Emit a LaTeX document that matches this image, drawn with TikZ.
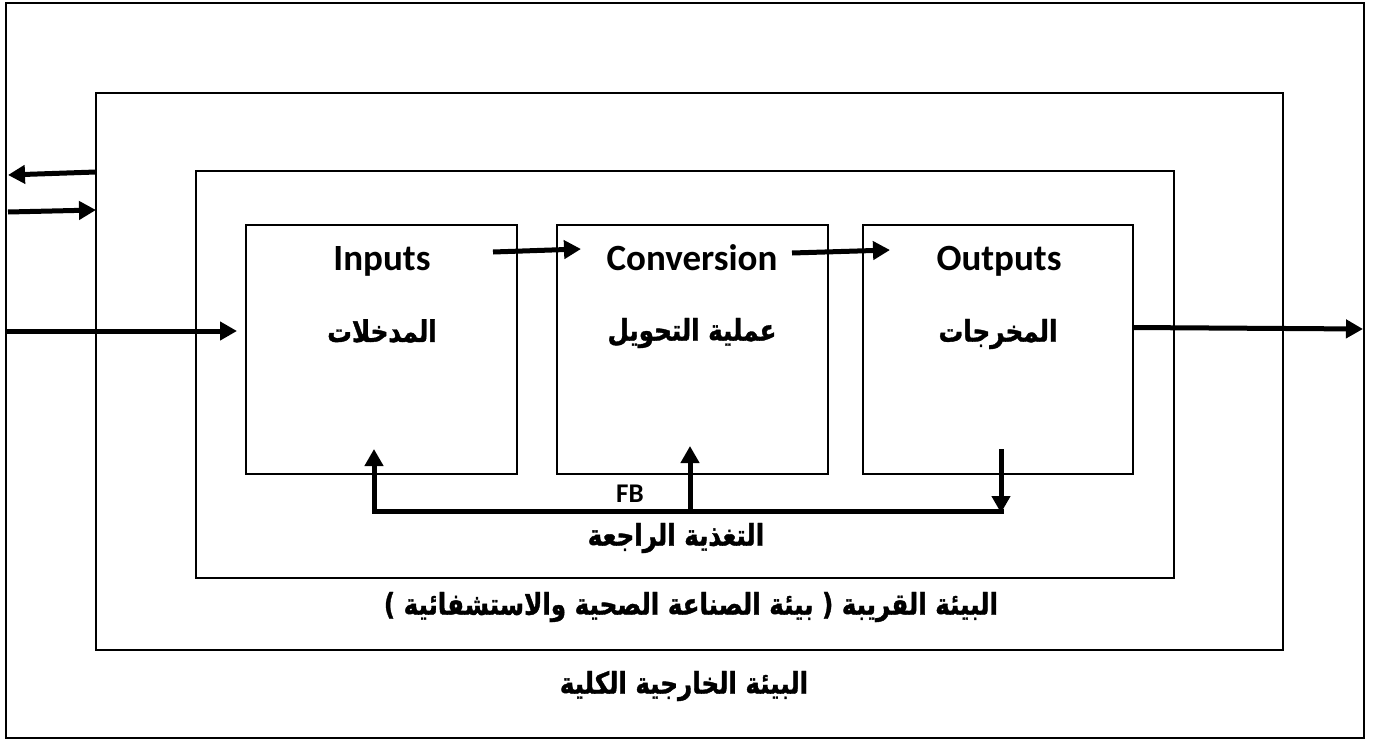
\documentclass[tikz,border=0pt]{standalone}
\usepackage{fontspec}
\setmainfont{Carlito}
\newfontfamily\arabicfont[Script=Arabic,FakeStretch=0.82,FakeBold=1.2]{DejaVu Sans}
\TeXXeTstate=1
\usetikzlibrary{arrows.meta}

\begin{document}
\begin{tikzpicture}[x=1pt,y=-1pt,
  box/.style={draw=black, inner sep=0pt, outer sep=0pt, anchor=center},
  frame/.style={box, line width=1.8pt},
  stage/.style={box, line width=1.3pt},
  flow/.style={line width=5pt, -{Triangle[length=17pt,width=18pt]}},
  fbline/.style={line width=5pt, line cap=rect},
  eng/.style={anchor=base, font=\fontsize{37}{40}\selectfont\bfseries},
  ara/.style={font=\fontsize{30}{32}\selectfont\arabicfont\bfseries},
  lbl/.style={anchor=base, font=\fontsize{27}{30}\selectfont\bfseries},
]
\useasboundingbox (0,0) rectangle (1374,742);

% nested environments
\node[frame, minimum width=1358pt, minimum height=735pt] (outer) at (685,370.5) {};
\node[frame, minimum width=1187pt, minimum height=557pt] (env) at (689.5,371.5) {};
\node[frame, minimum width=978pt, minimum height=407pt] (near) at (685,374.5) {};

% system stages
\node[stage, minimum width=271pt, minimum height=249pt] (inputs) at (381.5,349.5) {};
\node[stage, minimum width=271pt, minimum height=249pt] (conv) at (692.5,349.5) {};
\node[stage, minimum width=270pt, minimum height=249pt] (outputs) at (998,349.5) {};

% stage titles
\node[eng] (tin) at (382,270) {Inputs};
\node[eng] (tconv) at (692,270) {Conversion};
\node[eng] (tout) at (999,270) {Outputs};
\node[ara] (ain) at (382,331) {\beginR المدخلات\endR};
\node[ara] (aconv) at (692,333) {\beginR عملية التحويل\endR};
\node[ara] (aout) at (998,334) {\beginR المخرجات\endR};

% feedback labels
\node[lbl] (fb) at (630,502) {FB};
\node[ara] (fbar) at (676,538) {\beginR التغذية الراجعة\endR};

% environment labels
\node[ara] (nearlbl) at (691,607) {\beginR البيئة القريبة ( بيئة الصناعة الصحية والاستشفائية )\endR};
\node[ara] (outerlbl) at (684,686) {\beginR البيئة الخارجية الكلية\endR};

% exchange with the wider environment
\coordinate (exOut) at (8,175);
\coordinate (exIn) at (8,212);
\draw[flow] ([yshift=-79pt]env.north west) -- (exOut);
\draw[flow] (exIn) -- ([yshift=-117pt]env.north west);

% main flow
\coordinate (inStart) at (7,331);
\coordinate (inEnd) at (237,331);
\draw[flow] (inStart) -- (inEnd);
\coordinate (outEnd) at (1363,329);
\draw[flow] ([yshift=22pt]outputs.east) -- (outEnd);

\coordinate (a1s) at (493,252);
\coordinate (a1e) at (581,249);
\coordinate (a2s) at (792,253);
\coordinate (a2e) at (890,250);
\draw[flow] (a1s) -- (a1e);
\draw[flow] (a2s) -- (a2e);

% feedback loop
\coordinate (fbOut) at (1001,449);
\coordinate (fbR) at (1001,511);
\coordinate (fbL) at (374,511);
\coordinate (fbM) at (690,511);
\coordinate (fbInTip) at (374,449);
\coordinate (fbConvTip) at (690,446);
\draw[fbline] (fbR) -- (fbL);
\draw[flow] (fbOut) -- ([yshift=-2pt]fbR);
\draw[flow] (fbL) -- (fbInTip);
\draw[flow] (fbM) -- (fbConvTip);
\end{tikzpicture}
\end{document}
